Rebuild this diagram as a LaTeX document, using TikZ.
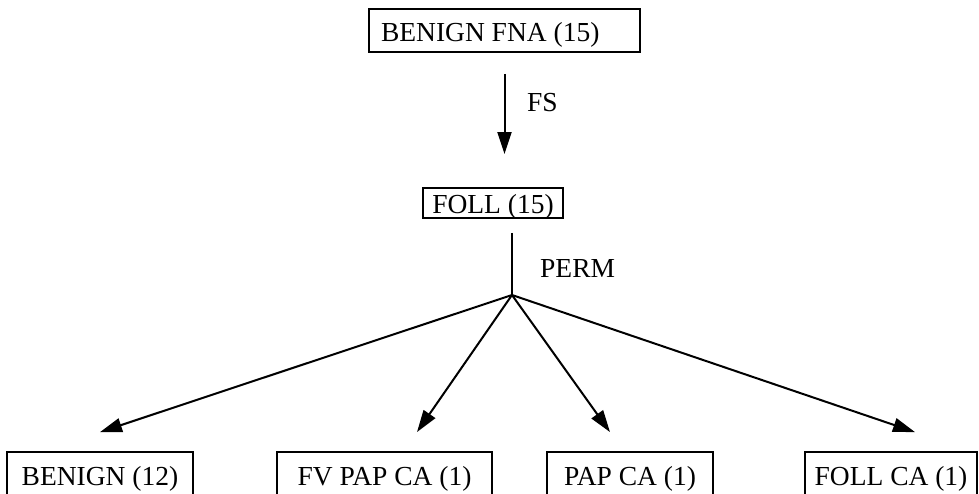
\documentclass[tikz,border=0pt]{standalone}
\usepackage{fontspec}
\setmainfont{Liberation Serif}
\usetikzlibrary{arrows.meta}

\begin{document}
\begin{tikzpicture}[x=1pt, y=-1pt,
		box/.style={draw, line width=1.8pt, inner sep=0pt, text height=22pt, text depth=0pt,
			font=\fontsize{27.5}{32}\selectfont},
		lbl/.style={anchor=west, inner sep=0pt, font=\fontsize{27.5}{32}\selectfont},
		arr/.style={line width=2pt, -{Triangle[length=22pt,width=14pt]}}]
		\useasboundingbox (0,0) rectangle (979,494);
		% Draw boxes
		\node[box, text width=271pt, align=flush left, minimum height=43pt] (fna) at (504.5,30.5) {\hspace*{12pt}BENIGN FNA (15)};
		\node[box, minimum width=140pt, minimum height=30pt] (foll) at (493,203) {FOLL (15)};
		\node[box, minimum width=186pt, minimum height=45pt] (benign) at (100,474.5) {BENIGN (12)};
		\node[box, minimum width=215pt, minimum height=45pt] (fvpap) at (384.5,474.5) {FV PAP CA (1)};
		\node[box, minimum width=166pt, minimum height=45pt] (pap) at (630,474.5) {PAP CA (1)};
		\node[box, minimum width=172pt, minimum height=45pt] (follca) at (891,474.5) {FOLL CA (1)};
		% Labels
		\node[lbl] (fs) at (527,103) {FS};
		\node[lbl] (perm) at (540,268) {PERM};
		% FNA to FOLL
		\draw[arr, shorten <=21pt, shorten >=33pt] (fna.south) -- (fna.south |- foll.north);
		% Split point
		\coordinate (split) at (512,295);
		\draw[line width=2pt, shorten <=14pt] (split |- foll.south) -- (split);
		% Branches
		\draw[arr] (split) -- ([yshift=19pt]benign.north);
		\draw[arr] (split) -- ([xshift=32.5pt,yshift=19pt]fvpap.north);
		\draw[arr] (split) -- ([xshift=-20pt,yshift=19pt]pap.north);
		\draw[arr] (split) -- ([xshift=24pt,yshift=19pt]follca.north);
	\end{tikzpicture}
\end{document}
